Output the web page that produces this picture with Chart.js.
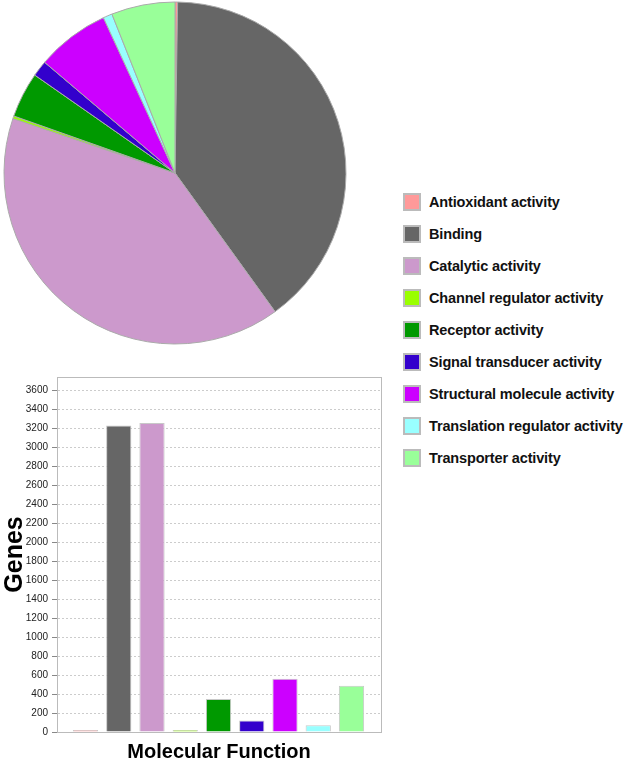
<!DOCTYPE html>
<html>
<head>
<meta charset="utf-8">
<script src="https://cdn.jsdelivr.net/npm/chart.js@4/dist/chart.umd.min.js"></script>
<style>
  html, body { margin: 0; padding: 0; background: #fff; }
  body { width: 625px; height: 765px; position: relative; overflow: hidden;
         font-family: "Liberation Sans", Arial, sans-serif; }
  #pieWrap { position: absolute; left: 3px; top: 1px; width: 344px; height: 344px; }
  #barWrap { position: absolute; left: 0; top: 360px; width: 392px; height: 405px; }
  #legend { position: absolute; left: 403px; top: 186px; }
  .item { display: flex; align-items: center; height: 32px; }
  .box { width: 14px; height: 14px; border: 2px solid #bbb; margin-right: 8px; flex: none; }
  .lbl { font-weight: bold; font-size: 14.5px; letter-spacing: -0.15px; color: #111; white-space: nowrap; }
</style>
</head>
<body>
<div id="pieWrap"><canvas id="pie"></canvas></div>
<div id="barWrap"><canvas id="bar"></canvas></div>
<div id="legend"></div>
<script>
const categories = [
  "Antioxidant activity",
  "Binding",
  "Catalytic activity",
  "Channel regulator activity",
  "Receptor activity",
  "Signal transducer activity",
  "Structural molecule activity",
  "Translation regulator activity",
  "Transporter activity"
];
const genes = [20, 3231, 3256, 20, 348, 122, 562, 70, 488];
const colors = ["#ff9999", "#666666", "#cc99cc", "#99ff00", "#009900", "#3300cc", "#cc00ff", "#99ffff", "#99ff99"];
const yTickStep = 200;
const yAxisTitle = "Genes";
const xAxisTitle = "Molecular Function";

const FONT = '"Liberation Sans", Arial, sans-serif';
const X_MIN = -0.857, X_MAX = 8.887, Y_MAX = 3741;

// HTML legend
const legend = document.getElementById('legend');
categories.forEach((c, i) => {
  const row = document.createElement('div');
  row.className = 'item';
  const b = document.createElement('div');
  b.className = 'box';
  b.style.background = colors[i];
  const t = document.createElement('span');
  t.className = 'lbl';
  t.textContent = c;
  row.appendChild(b); row.appendChild(t);
  legend.appendChild(row);
});

new Chart(document.getElementById('pie'), {
  type: 'pie',
  data: {
    labels: categories,
    datasets: [{
      data: genes,
      backgroundColor: colors,
      borderColor: '#aaaaaa',
      borderWidth: 1
    }]
  },
  options: {
    responsive: true,
    maintainAspectRatio: false,
    animation: false,
    radius: 171,
    layout: { padding: 0 },
    plugins: { legend: { display: false }, tooltip: { enabled: false } }
  }
});

const frame = {
  id: 'frame',
  afterDatasetsDraw(chart) {
    const { ctx, chartArea: a } = chart;
    ctx.save();
    ctx.strokeStyle = '#bbbbbb';
    ctx.lineWidth = 1;
    ctx.strokeRect(Math.round(a.left) + 0.5, Math.round(a.top) + 0.5,
                   Math.round(a.right - a.left), Math.round(a.bottom - a.top));
    ctx.restore();
  }
};

new Chart(document.getElementById('bar'), {
  type: 'bar',
  data: {
    datasets: [{
      data: genes.map((v, i) => ({ x: i, y: v })),
      backgroundColor: colors,
      borderColor: '#c8c8c8',
      borderWidth: 1,
      borderSkipped: 'start',
      categoryPercentage: 1,
      barPercentage: 0.76
    }]
  },
  plugins: [frame],
  options: {
    responsive: true,
    maintainAspectRatio: false,
    animation: false,
    layout: { padding: { top: 17, right: 11, left: 0, bottom: 0 } },
    plugins: { legend: { display: false }, tooltip: { enabled: false } },
    scales: {
      x: {
        type: 'linear',
        bounds: 'data',
        offset: false,
        min: X_MIN,
        max: X_MAX,
        afterBuildTicks(scale) { scale.min = X_MIN; scale.max = X_MAX; },
        grid: { display: false, drawTicks: false },
        border: { display: true, color: '#aaaaaa' },
        ticks: { display: false },
        title: {
          display: true, text: xAxisTitle, color: '#000',
          font: { family: FONT, size: 20, weight: 'bold' },
          padding: { top: 8, bottom: 1 }
        }
      },
      y: {
        min: 0,
        max: Y_MAX,
        afterFit(scale) { scale.width = 57; },
        grid: {
          color: '#cccccc',
          tickColor: '#888888',
          tickBorderDash: [],
          tickLength: 5,
          drawTicks: true
        },
        border: { display: true, color: '#aaaaaa', dash: [2, 2] },
        ticks: {
          stepSize: yTickStep,
          includeBounds: false,
          padding: 4,
          color: '#222',
          font: { family: FONT, size: 10 },
          callback: (v) => String(v)
        },
        title: {
          display: true, text: yAxisTitle, color: '#000',
          font: { family: FONT, size: 25, weight: 'bold' },
          padding: { top: 0, bottom: 0 }
        }
      }
    }
  }
});
</script>
</body>
</html>
